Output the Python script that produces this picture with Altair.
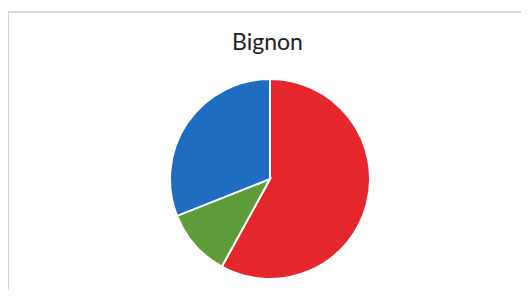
import altair as alt
import pandas as pd

title_text = ["Bignon"]
categories = ["Rouge", "Vert", "Bleu"]
values = [58, 11, 31]
colors = ["#E5262C", "#5E9C3A", "#1E6DC1"]
order = [1, 2, 3]

df = pd.DataFrame({"categorie": categories, "valeur": values, "ordre": order})
tdf = pd.DataFrame({"titre": title_text})

pie = alt.Chart(df).mark_arc(outerRadius=100, stroke="white", strokeWidth=2).encode(
    theta=alt.Theta("valeur:Q", stack=True),
    color=alt.Color("categorie:N", scale=alt.Scale(domain=categories, range=colors), legend=None),
    order=alt.Order("ordre:Q"),
)

title = alt.Chart(tdf).mark_text(font="Lato", fontSize=23, color="#222222",
                                 baseline="alphabetic", align="center").encode(
    text="titre:N", x=alt.value(247.5), y=alt.value(-18.5)
)

frame_top = alt.Chart(df).mark_rule(color="#cfd8e3", strokeWidth=1).encode(
    x=alt.value(-12), x2=alt.value(510), y=alt.value(-56)
)
frame_left = alt.Chart(df).mark_rule(color="#cfd8e3", strokeWidth=1).encode(
    x=alt.value(-11.5), y=alt.value(-56), y2=alt.value(230)
)

chart = alt.layer(frame_top, frame_left, title, pie).properties(
    width=500,
    height=222,
    padding={"left": 12, "top": 60, "right": 1, "bottom": 0},
    autosize=alt.AutoSizeParams(type="none"),
).configure_view(stroke=None)

chart.save("out.html", embed_options={"renderer": "svg", "actions": False})
